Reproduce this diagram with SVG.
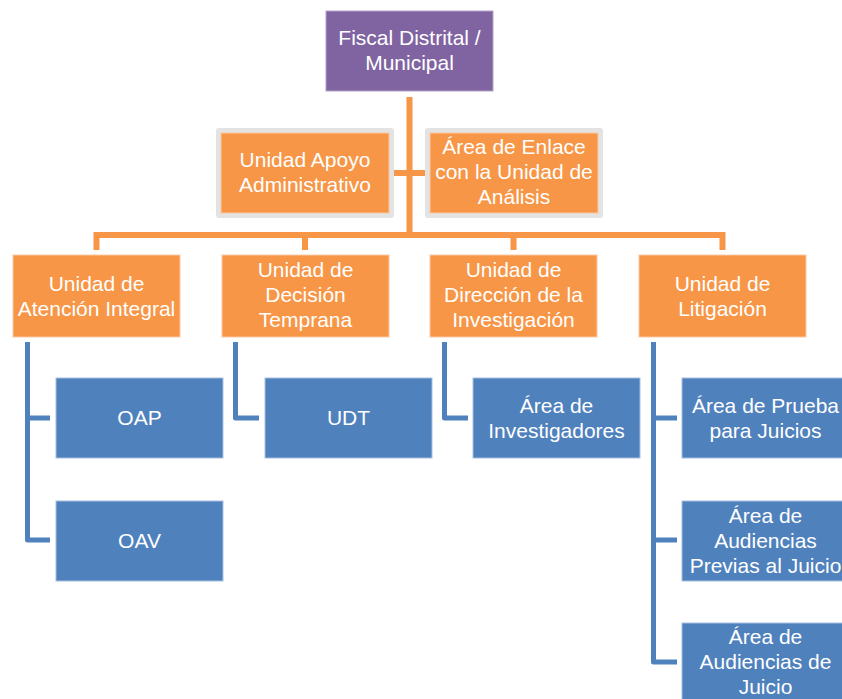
<svg xmlns="http://www.w3.org/2000/svg" width="842" height="699" viewBox="0 0 842 699">
<style>
.o{fill:#F79646;stroke:#FBC9A3;stroke-width:1}
.p{fill:#8064A2;stroke:#B3A2C7;stroke-width:1}
.b{fill:#4F81BD;stroke:#A7C0DE;stroke-width:1}
.g{fill:#E3E3E3}
text{font-family:"Liberation Sans",Arial,sans-serif;font-size:21px;fill:#FFFFFF;text-anchor:middle}
.co{fill:none;stroke:#F79646;stroke-width:6}
.cb{fill:none;stroke:#4F81BD;stroke-width:5;stroke-linejoin:round}
</style>
<rect width="842" height="699" fill="#FFFFFF"/>
<g id="connectors">
<path class="co" d="M409.5,97 V235 M393,173 H425 M93.5,235 H725.5 M96.5,235 V250 M305,235 V250 M513.5,235 V250 M722.5,235 V250"/>
<path class="cb" d="M27.5,342 V540 H50 M27.5,418 H50"/>
<path class="cb" d="M235.5,342 V418 H259"/>
<path class="cb" d="M444.5,342 V418 H468"/>
<path class="cb" d="M653.5,342 V662 H677 M653.5,418 H677 M653.5,540 H677"/>
</g>
<g id="fiscal"><rect class="p" x="326" y="11" width="167" height="80"/><text x="409.5" y="45">Fiscal Distrital /</text><text x="409.5" y="70">Municipal</text></g>
<g id="apoyo"><rect class="g" x="216" y="128" width="178" height="90" rx="3"/><rect class="o" x="221" y="133" width="168" height="80"/><text x="305" y="167">Unidad Apoyo</text><text x="305" y="192">Administrativo</text></g>
<g id="enlace"><rect class="g" x="425" y="128" width="178" height="90" rx="3"/><rect class="o" x="430" y="133" width="168" height="80"/><text x="514" y="154">Área de Enlace</text><text x="514" y="179">con la Unidad de</text><text x="514" y="204">Análisis</text></g>
<g id="atencion"><rect class="o" x="13" y="255" width="167" height="82"/><text x="96.5" y="291">Unidad de</text><text x="96.5" y="316">Atención Integral</text></g>
<g id="decision"><rect class="o" x="222" y="255" width="167" height="82"/><text x="305.5" y="277">Unidad de</text><text x="305.5" y="302">Decisión</text><text x="305.5" y="327">Temprana</text></g>
<g id="direccion"><rect class="o" x="430" y="255" width="167" height="82"/><text x="513.5" y="277">Unidad de</text><text x="513.5" y="302">Dirección de la</text><text x="513.5" y="327">Investigación</text></g>
<g id="litigacion"><rect class="o" x="639" y="255" width="167" height="82"/><text x="722.5" y="291">Unidad de</text><text x="722.5" y="316">Litigación</text></g>
<g id="oap"><rect class="b" x="56" y="378" width="167" height="80"/><text x="139.5" y="425">OAP</text></g>
<g id="oav"><rect class="b" x="56" y="501" width="167" height="80"/><text x="139.5" y="548">OAV</text></g>
<g id="udt"><rect class="b" x="265" y="378" width="167" height="80"/><text x="348.5" y="425">UDT</text></g>
<g id="investigadores"><rect class="b" x="473" y="378" width="167" height="80"/><text x="556.5" y="413">Área de</text><text x="556.5" y="438">Investigadores</text></g>
<g id="prueba"><rect class="b" x="682" y="378" width="167" height="80"/><text x="765.5" y="413">Área de Prueba</text><text x="765.5" y="438">para Juicios</text></g>
<g id="previas"><rect class="b" x="682" y="501" width="167" height="80"/><text x="765.5" y="523">Área de</text><text x="765.5" y="548">Audiencias</text><text x="765.5" y="573">Previas al Juicio</text></g>
<g id="juicio"><rect class="b" x="682" y="623" width="167" height="80"/><text x="765.5" y="644">Área de</text><text x="765.5" y="669">Audiencias de</text><text x="765.5" y="694">Juicio</text></g>
</svg>
